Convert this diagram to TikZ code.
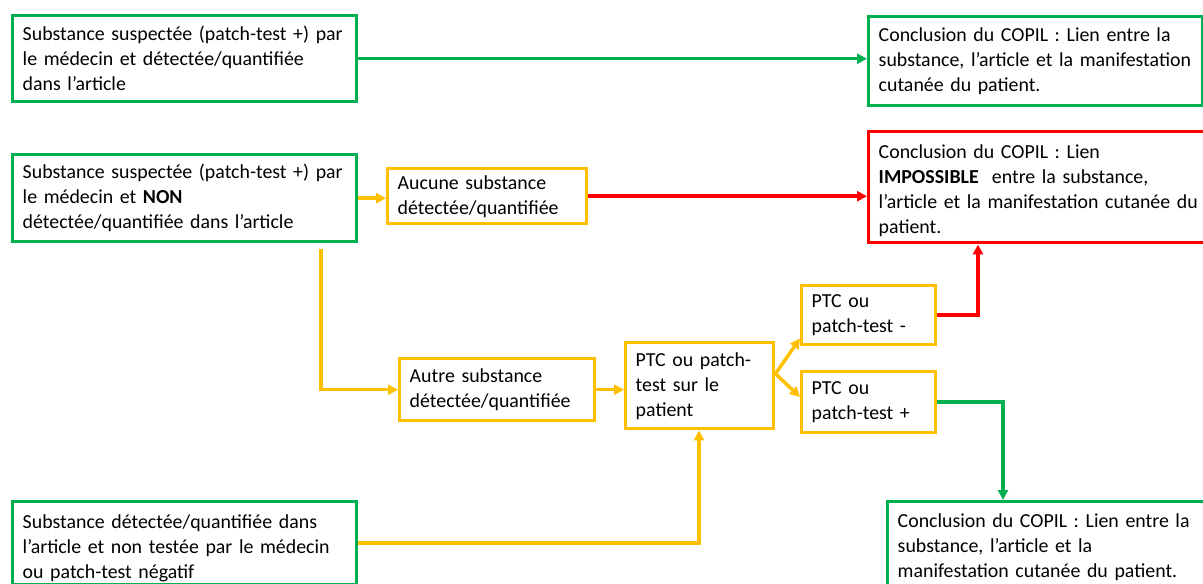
\documentclass[tikz,border=0pt]{standalone}
\usepackage{fontspec}
\setmainfont{Carlito}
\usetikzlibrary{arrows.meta,calc}
\definecolor{gr}{HTML}{00B050}
\definecolor{yl}{HTML}{FFC000}
\definecolor{rd}{HTML}{FF0000}
\tikzset{
  bx/.style n args={3}{draw=#3, line width=2.6pt, anchor=north west, align=left,
    inner xsep=7.5pt, inner ysep=2pt,
    minimum width=#1*0.75pt, minimum height=#2*0.75pt, text width=#1*0.75pt-15pt,
    font=\fontsize{14.9}{18.75}\selectfont},
  con/.style={draw=#1, line width=2.6pt, -{Triangle[length=7.5pt,width=7.5pt]}},
}
\begin{document}
\begin{tikzpicture}[x=0.75pt,y=-0.75pt]
\useasboundingbox (0,0) rectangle (1203,584);
\clip (0,0) rectangle (1203,584);

\node[bx={344}{86}{gr}] (A) at (11,14) {\mbox{Substance suspectée (patch-test +) par}\\le médecin et détectée/quantifiée\\dans l’article};
\node[bx={334}{89}{gr}] (B) at (867,15) {Conclusion du COPIL : Lien entre la\\\mbox{substance, l’article et la manifestation}\\cutanée du patient.};
\node[bx={344}{87}{gr}] (C) at (11,153) {\mbox{Substance suspectée (patch-test +) par}\\le médecin et \textbf{NON}\\\mbox{détectée/quantifiée dans l’article}};
\node[bx={199}{55}{yl}] (D) at (386,167) {Aucune substance\\détectée/quantifiée};
\node[bx={345}{111}{rd}] (E) at (867,130) {\rule{0pt}{15pt}Conclusion du COPIL : Lien\\\textbf{IMPOSSIBLE}\ \ entre la substance,\\\mbox{l’article et la manifestation cutanée du}\\patient.};
\node[bx={195}{62}{yl}] (F) at (398,357) {Autre substance\\\mbox{détectée/quantifiée}};
\node[bx={148}{86}{yl}] (G) at (624,341) {PTC ou patch-\\test sur le\\patient};
\node[bx={134}{59}{yl}] (H) at (800,284) {PTC ou\\patch-test -};
\node[bx={134}{61}{yl}] (I) at (800,370) {PTC ou\\patch-test +};
\node[bx={330}{90}{gr}] (J) at (886,500) {Conclusion du COPIL : Lien entre la\\substance, l’article et la\\\mbox{manifestation cutanée du patient.}};
\node[bx={344}{81}{gr}] (K) at (11,500) {\rule{0pt}{18pt}\mbox{Substance détectée/quantifiée dans}\\\mbox{l’article et non testée par le médecin}\\ou patch-test négatif};

\coordinate (c1) at (321,249);
\coordinate (g1) at ($(G.east)+(0,-12)$);

\draw[con=gr] (A.east) -- (A.east -| B.west);
\draw[con=yl] (C.east) -- (C.east -| D.west);
\draw[con=rd] (D.east) -- (D.east -| E.west);
\draw[con=yl] (c1) |- (F.west);
\draw[con=yl] (F.east) -- (F.east -| G.west);
\draw[con=yl] (g1) -- ($(H.south west)+(0,-8)$);
\draw[con=yl] (g1) -- ($(I.north west)+(0,27)$);
\draw[con=rd] (H.east) -| ($(E.south west)+(111,0)$);
\draw[con=gr] (I.east) -| ($(J.north west)+(117,0)$);
\draw[con=yl] (K.east) -| ($(G.south west)+(75,0)$);
\end{tikzpicture}
\end{document}
